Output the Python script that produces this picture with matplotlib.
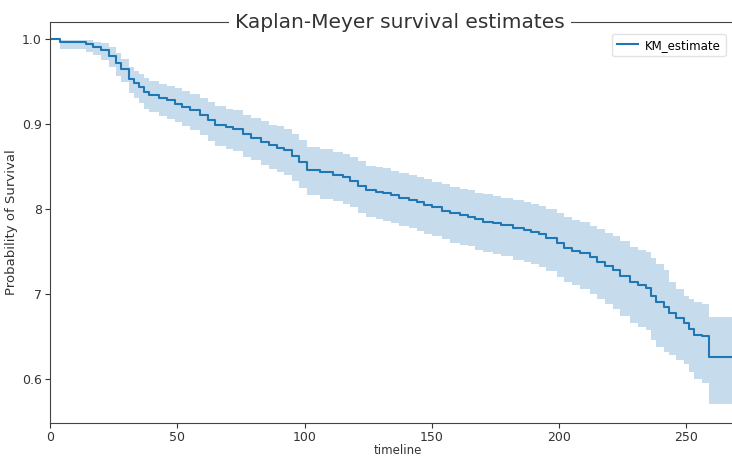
import numpy as np
import matplotlib
matplotlib.use("Agg")
import matplotlib.pyplot as plt

# event times and Kaplan-Meier estimate
timeline = [0, 4, 14, 17, 20, 23, 26, 28, 31, 33, 35, 37, 39, 43, 46, 49, 52, 55, 59,
            62, 65, 69, 72, 76, 79, 83, 86, 89, 92, 95, 98, 101, 106, 111, 115, 118,
            121, 124, 128, 131, 134, 137, 141, 144, 147, 150, 154, 157, 161, 164, 167,
            170, 174, 177, 182, 186, 189, 192, 195, 199, 202, 205, 208, 212, 215, 218,
            221, 224, 228, 231, 234, 236, 238, 241, 243, 246, 249, 251, 253, 256, 259, 271]
km_estimate = [1.000, 0.996, 0.994, 0.991, 0.987, 0.980, 0.972, 0.965, 0.953, 0.948, 0.944,
               0.938, 0.934, 0.930, 0.928, 0.924, 0.920, 0.916, 0.911, 0.905, 0.899, 0.896,
               0.894, 0.888, 0.884, 0.879, 0.875, 0.872, 0.869, 0.862, 0.855, 0.846, 0.843,
               0.840, 0.837, 0.833, 0.827, 0.822, 0.820, 0.819, 0.816, 0.813, 0.810, 0.808,
               0.805, 0.802, 0.798, 0.795, 0.793, 0.791, 0.788, 0.785, 0.783, 0.781, 0.777,
               0.775, 0.773, 0.770, 0.766, 0.760, 0.754, 0.751, 0.748, 0.743, 0.738, 0.733,
               0.728, 0.721, 0.714, 0.710, 0.707, 0.698, 0.690, 0.684, 0.677, 0.672, 0.666,
               0.659, 0.652, 0.650, 0.626, 0.626]
ci_lower = [1.000, 0.988, 0.985, 0.981, 0.975, 0.967, 0.957, 0.949, 0.936, 0.930, 0.925,
            0.918, 0.914, 0.909, 0.906, 0.902, 0.897, 0.893, 0.887, 0.880, 0.874, 0.870,
            0.868, 0.861, 0.857, 0.852, 0.847, 0.844, 0.840, 0.833, 0.825, 0.816, 0.812,
            0.809, 0.806, 0.802, 0.795, 0.790, 0.788, 0.786, 0.783, 0.780, 0.777, 0.774,
            0.771, 0.768, 0.764, 0.760, 0.758, 0.756, 0.752, 0.749, 0.747, 0.745, 0.740,
            0.738, 0.735, 0.732, 0.727, 0.720, 0.714, 0.710, 0.706, 0.700, 0.694, 0.688,
            0.682, 0.674, 0.666, 0.661, 0.657, 0.646, 0.637, 0.632, 0.628, 0.622, 0.617,
            0.608, 0.600, 0.595, 0.570, 0.570]
ci_upper = [1.000, 0.999, 0.999, 0.997, 0.995, 0.990, 0.983, 0.977, 0.967, 0.962, 0.959,
            0.954, 0.950, 0.947, 0.945, 0.942, 0.939, 0.935, 0.931, 0.926, 0.921, 0.918,
            0.916, 0.911, 0.907, 0.903, 0.899, 0.897, 0.894, 0.888, 0.881, 0.873, 0.870,
            0.867, 0.865, 0.861, 0.856, 0.851, 0.849, 0.848, 0.845, 0.842, 0.840, 0.838,
            0.835, 0.832, 0.829, 0.826, 0.824, 0.822, 0.819, 0.817, 0.815, 0.813, 0.810,
            0.808, 0.806, 0.804, 0.800, 0.795, 0.790, 0.787, 0.785, 0.780, 0.776, 0.772,
            0.768, 0.762, 0.755, 0.752, 0.749, 0.742, 0.735, 0.728, 0.714, 0.706, 0.698,
            0.694, 0.690, 0.688, 0.673, 0.673]

y_ticks = [0.6, 0.7, 0.8, 0.9, 1.0]
y_tick_labels = ["0.6", "7", "8", "0.9", "1.0"]
x_ticks = [0, 50, 100, 150, 200, 250]

fig = plt.figure(figsize=(7.32, 4.59), dpi=100)
# axes run past the right edge, like the cropped original
ax = fig.add_axes([50 / 732, 36 / 459, 695 / 732, 401 / 459])

line_color = "#1f77b4"
ax.fill_between(timeline, ci_lower, ci_upper, step="post", color=line_color,
                alpha=0.25, linewidth=0)
ax.step(timeline, km_estimate, where="post", color=line_color, linewidth=1.5,
        label="KM_estimate")

ax.set_xlim(0, 273)
ax.set_ylim(0.548, 1.02)
ax.set_xticks(x_ticks)
ax.set_yticks(y_ticks)
ax.set_yticklabels(y_tick_labels)
ax.tick_params(labelsize=9, colors="#333333", pad=2.5)

for side in ["left", "bottom", "top", "right"]:
    ax.spines[side].set_color("#444444")

ax.set_xlabel("timeline", fontsize=8.5, color="#333333", labelpad=0)
ax.set_ylabel("Probability of Survival", fontsize=9.5, color="#333333", labelpad=3)

# title sits on the top spine with a white patch behind it
ax.text(350 / 695, 1.0, "Kaplan-Meyer survival estimates", transform=ax.transAxes,
        ha="center", va="center", fontsize=14.5, color="#333333",
        bbox=dict(facecolor="white", edgecolor="none", pad=4))

fig.legend(loc="upper left", bbox_to_anchor=(606 / 732, 1 - 28 / 459), fontsize=8.5,
           frameon=True, edgecolor="#dddddd", handlelength=1.8, handletextpad=0.6)

fig.savefig("out.png", dpi=100)
